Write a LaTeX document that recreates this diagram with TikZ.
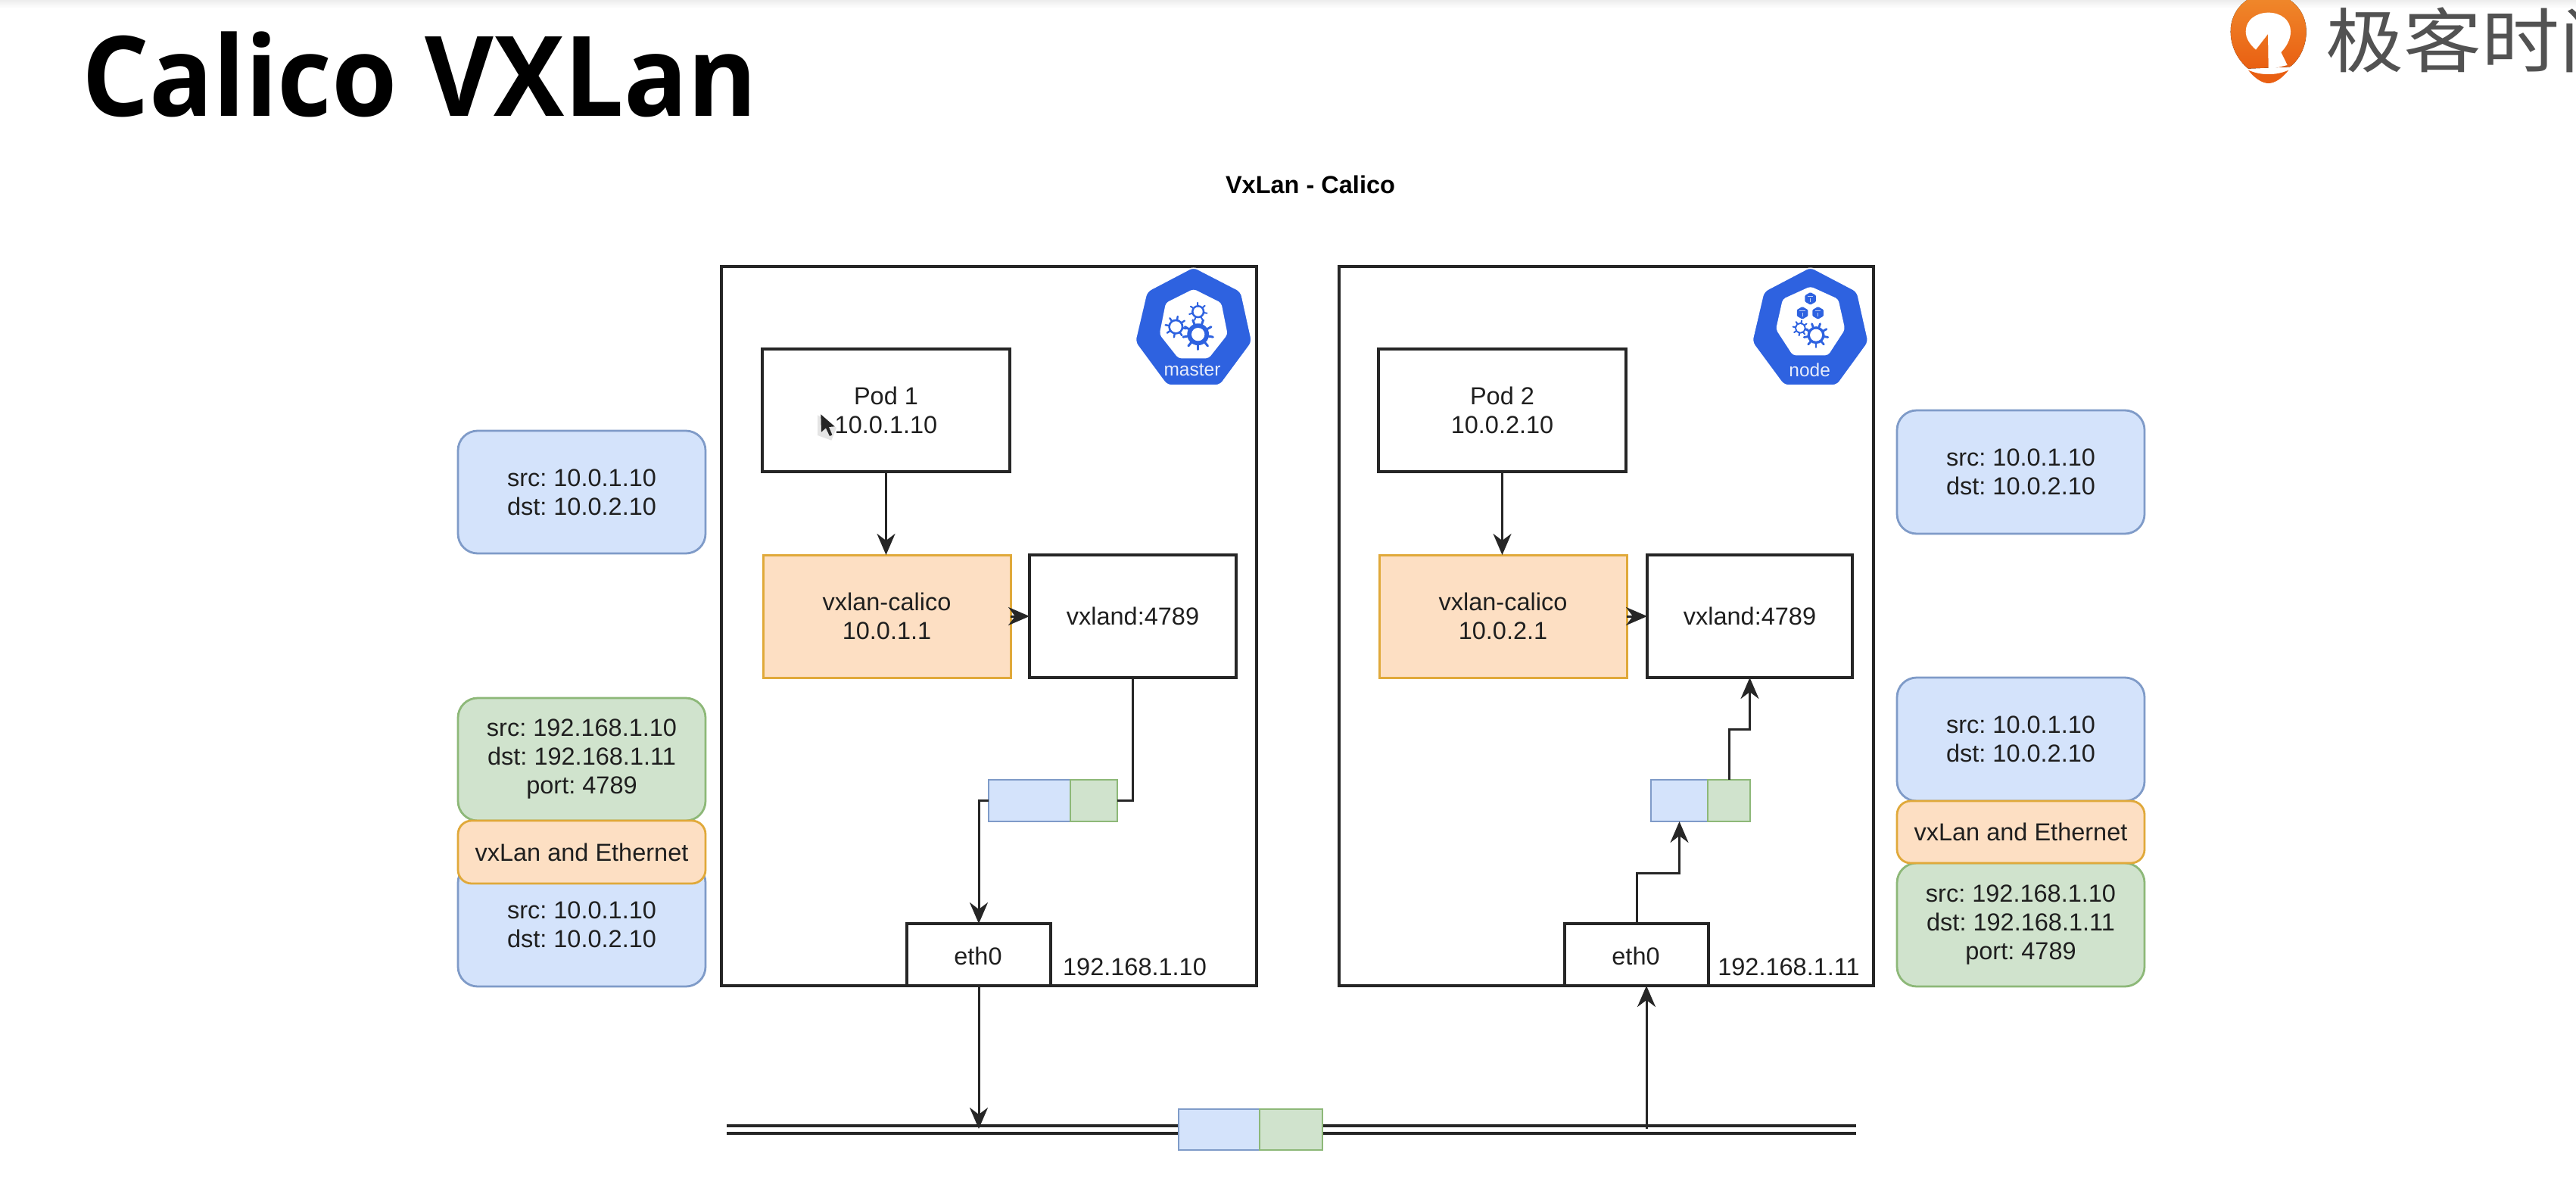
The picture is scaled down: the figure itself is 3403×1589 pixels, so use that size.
\documentclass[tikz,border=0pt]{standalone}
\usepackage{fontspec}
\usepackage{graphicx}
\setmainfont{Liberation Sans}
\newfontfamily\titlefont{Open Sans}
\newfontfamily\cjkfont{Noto Sans CJK SC}
\usetikzlibrary{arrows.meta,calc}
\frenchspacing
\definecolor{boxblue}{HTML}{D4E3FB}
\definecolor{lineblue}{HTML}{7F9BC8}
\definecolor{boxgreen}{HTML}{D0E3CD}
\definecolor{linegreen}{HTML}{8DB878}
\definecolor{boxorange}{HTML}{FDDFC3}
\definecolor{lineorange}{HTML}{E0A93A}
\definecolor{kblue}{HTML}{2E62E0}
\definecolor{logotop}{HTML}{F08A2C}
\definecolor{logobot}{HTML}{E95F12}
\newcommand{\kgear}[6]{%
  \foreach \ka in {1,...,#5}{\draw[kblue,line width=#6,line cap=round]
    (#1,#2) -- ++({\ka*360/#5+10}:#3);}
  \fill[kblue] (#1,#2) circle[radius=#3*0.72];
  \fill[white] (#1,#2) circle[radius=#4];}
\newcommand{\kcube}[3]{%
  \fill[kblue,rounded corners=0.5pt] (#1,#2)+(90:#3) -- +(150:#3) -- +(210:#3) -- +(270:#3) -- +(330:#3) -- +(30:#3) -- cycle;
  \draw[white!70!kblue,line width=0.5pt] (#1,#2) -- +(0,#3*0.55) (#1,#2)+(-#3*0.45,-#3*0.3) -- +(#3*0.45,-#3*0.3);}
\tikzset{
  wh/.style 2 args={minimum width=#1*0.5pt,minimum height=#2*0.5pt},
  base/.style={inner sep=0pt,outer sep=0pt,align=center,text=black!88,
    font=\fontsize{16.25}{19}\selectfont,anchor=north west},
  plainbox/.style={base,draw=black!85,fill=white,line width=1.6pt},
  hostbox/.style={plainbox},
  calbox/.style={base,draw=lineorange,fill=boxorange,line width=1.5pt},
  pktblue/.style={base,draw=lineblue,fill=boxblue,line width=1.4pt},
  pktgreen/.style={base,draw=linegreen,fill=boxgreen,line width=1.4pt},
  tagblue/.style={pktblue,rounded corners=13pt},
  taggreen/.style={pktgreen,rounded corners=13pt},
  tagorange/.style={base,draw=lineorange,fill=boxorange,line width=1.4pt,rounded corners=9pt},
  lbl/.style={inner sep=0pt,outer sep=0pt,text=black!88,font=\fontsize{16.25}{19}\selectfont},
  conn/.style={draw=black!85,line width=1.5pt},
  arr/.style={conn,-{Stealth[length=14pt,width=12pt,inset=4.5pt]}},
  busline/.style={draw=black!85,line width=1.6pt},
  iconlabel/.style={inner sep=0pt,text=white!88!kblue,font=\fontsize{12.25}{14}\selectfont},
}
\begin{document}
\begin{tikzpicture}[x=0.5pt,y=-0.5pt]
\useasboundingbox (0,0) rectangle (3403,1589);
\fill[white] (0,0) rectangle (3403,1589);
\fill[top color=black!7,bottom color=white,draw=none] (0,0) rectangle (3403,11);

% heading
\node[anchor=base west,inner sep=0pt,font=\titlefont\bfseries\fontsize{73.5}{80}\selectfont] (title) at (108,154) {\scalebox{0.95}[1]{Calico VXLan}};
\node[inner sep=0pt,font=\bfseries\fontsize{16.25}{19}\selectfont] (subtitle) at (1731,244) {VxLan - Calico};

% logo
\begin{scope}[shift={(2930,0)},x=0.16667pt,y=-0.16667pt]
  \fill[top color=logotop,bottom color=logobot]
    (120,272) .. controls (75,235) and (50,180) .. (50,125)
    .. controls (50,40) and (115,-25) .. (200,-25)
    .. controls (285,-25) and (350,40) .. (350,125)
    .. controls (350,180) and (325,235) .. (285,265)
    -- cycle;
  \fill[white] (150,197) .. controls (125,175) and (110,150) .. (110,125)
    .. controls (110,80) and (150,50) .. (200,50)
    .. controls (250,50) and (288,80) .. (288,125)
    .. controls (288,155) and (272,185) .. (250,207)
    -- (275,258) -- (200,276) -- (198,135) -- cycle;
  \fill[logobot] (120,278) .. controls (170,300) and (230,300) .. (280,278)
    .. controls (255,310) and (225,330) .. (200,330)
    .. controls (175,330) and (145,310) .. (120,278) -- cycle;
\end{scope}
\node[anchor=base west,inner sep=0pt,text=black!68,font=\cjkfont\fontsize{51.5}{56}\selectfont] (brand) at (3072,89) {\scalebox{1}[0.9]{极客时间}};

% hosts
\node[hostbox,wh={707}{950}] (host1) at (953,352) {};
\node[hostbox,wh={706}{950}] (host2) at (1769,352) {};

% master icon
\begin{scope}[shift={(1400,330)},x=0.16667pt,y=-0.16667pt]
  \fill[kblue,draw=white,line width=0.8pt,rounded corners=3pt] (530,68) -- (718,165) -- (762,365) -- (635,537) -- (425,537) -- (298,365) -- (345,165) -- cycle;
  \fill[white,rounded corners=2pt] (530,155) -- (640,210) -- (665,335) -- (590,430) -- (470,430) -- (395,335) -- (420,210) -- cycle;
  \kgear{548}{245}{36}{18}{7}{1pt}
  \kgear{460}{305}{42}{22}{8}{1.2pt}
  \kgear{548}{335}{60}{26}{9}{1.5pt}
  \node[iconlabel] (mastertext) at (525,475) {master};
\end{scope}
% node icon
\begin{scope}[shift={(2250,330)},x=0.16667pt,y=-0.16667pt]
  \fill[kblue,draw=white,line width=0.8pt,rounded corners=3pt] (425,68) -- (610,165) -- (655,365) -- (530,537) -- (320,537) -- (193,365) -- (240,165) -- cycle;
  \fill[white,rounded corners=2pt] (425,145) -- (535,195) -- (562,315) -- (495,418) -- (355,418) -- (288,315) -- (315,195) -- cycle;
  \kcube{425}{193}{25}
  \kcube{393}{250}{25}
  \kcube{455}{250}{25}
  \kgear{385}{310}{30}{16}{8}{1pt}
  \kgear{447}{338}{48}{24}{9}{1.4pt}
  \node[iconlabel] (nodetext) at (422,475) {node};
\end{scope}

% left host content
\node[plainbox,wh={327}{162}] (pod1) at (1007,461) {Pod 1\\10.0.1.10};
\node[calbox,wh={327}{162}] (cal1) at (1008,733) {vxlan-calico\\10.0.1.1};
\node[plainbox,wh={273}{162}] (vx1) at (1360,733) {vxland:4789};
\node[pktblue,wh={108}{55}] (pk1b) at (1306,1030) {};
\node[pktgreen,wh={62}{55}] (pk1g) at (1414,1030) {};
\node[plainbox,wh={190}{82}] (eth1) at (1198,1220) {};
\node[lbl] (eth1t) at (1292,1263) {eth0};
\node[lbl,anchor=base] (ip1) at (1499,1288) {192.168.1.10};

% right host content
\node[plainbox,wh={327}{162}] (pod2) at (1821,461) {Pod 2\\10.0.2.10};
\node[calbox,wh={327}{162}] (cal2) at (1822,733) {vxlan-calico\\10.0.2.1};
\node[plainbox,wh={271}{162}] (vx2) at (2176,733) {vxland:4789};
\node[pktblue,wh={75}{55}] (pk2b) at (2181,1030) {};
\node[pktgreen,wh={56}{55}] (pk2g) at (2256,1030) {};
\node[plainbox,wh={190}{82}] (eth2) at (2067,1220) {};
\node[lbl] (eth2t) at (2161,1263) {eth0};
\node[lbl,anchor=base] (ip2) at (2363,1288) {192.168.1.11};

% bus
\coordinate (busA1) at (960,1487);
\coordinate (busB1) at (2452,1487);
\coordinate (busA2) at (960,1497);
\coordinate (busB2) at (2452,1497);
\coordinate (bustap1) at (1293,1491);
\coordinate (bustap2) at (2175,1491);
\draw[busline] (busA1) -- (busB1);
\draw[busline] (busA2) -- (busB2);
\node[pktblue,wh={107}{54}] (pk3b) at (1557,1465) {};
\node[pktgreen,wh={83}{54}] (pk3g) at (1664,1465) {};

% connectors
\draw[arr] (pod1.south) -- (pod1.south |- cal1.north);
\draw[arr] (cal1.east) -- (vx1.west);
\draw[conn] (vx1.south) |- (pk1g.east);
\draw[arr] (pk1b.west) -| (eth1.north);
\draw[arr] (eth1.south) -- (bustap1);
\draw[arr] (pod2.south) -- (pod2.south |- cal2.north);
\draw[arr] (cal2.east) -- (vx2.west);
\draw[arr] (eth2.north) -- ++(0,-67) -| (pk2b.south);
\draw[arr] (pk2g.north) -- ++(0,-67) -| (vx2.south);
\draw[arr] (bustap2) -- (bustap2 |- eth2.south);

% left tags
\node[tagblue,wh={327}{162}] (tagL1) at (605,569) {src: 10.0.1.10\\dst: 10.0.2.10};
\node[taggreen,wh={327}{162}] (tagL2) at (605,922) {src: 192.168.1.10\\dst: 192.168.1.11\\port: 4789};
\node[tagblue,wh={327}{163}] (tagL4) at (605,1140) {src: 10.0.1.10\\dst: 10.0.2.10};
\node[tagorange,wh={327}{83}] (tagL3) at (605,1084) {vxLan and Ethernet};

% right tags
\node[tagblue,wh={327}{163}] (tagR1) at (2506,542) {src: 10.0.1.10\\dst: 10.0.2.10};
\node[tagblue,wh={327}{163}] (tagR2) at (2506,895) {src: 10.0.1.10\\dst: 10.0.2.10};
\node[taggreen,wh={327}{163}] (tagR4) at (2506,1140) {src: 192.168.1.10\\dst: 192.168.1.11\\port: 4789};
\node[tagorange,wh={327}{82}] (tagR3) at (2506,1058) {vxLan and Ethernet};

% mouse pointer
\begin{scope}[shift={(990,440)},x=0.16667pt,y=-0.16667pt]
  \fill[black!10] (270,325) -- (270,405) -- (325,425) -- (345,375) -- cycle;
  \fill[black!85] (283,322) -- (285,392) -- (303,376) -- (318,408) -- (328,403) -- (315,372) -- (338,370) -- cycle;
\end{scope}
\end{tikzpicture}
\end{document}
